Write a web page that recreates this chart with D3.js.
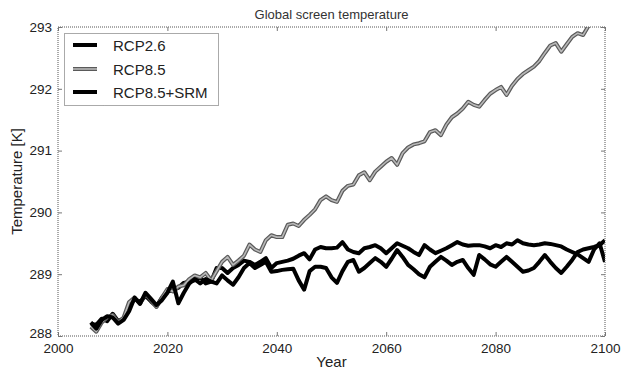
<!DOCTYPE html>
<html>
<head>
<meta charset="utf-8">
<script src="https://cdn.jsdelivr.net/npm/d3@7"></script>
<style>
  html, body { margin: 0; padding: 0; background: #fff; }
  svg { display: block; font-family: "Liberation Sans", Arial, sans-serif; }
</style>
</head>
<body>
<svg id="chart" width="621" height="372"></svg>
<script>
// Annual global-mean screen temperature, 2006–2100
const startYear = 2006;

const rcp26 = [
  288.20, 288.18, 288.28, 288.24, 288.36, 288.24, 288.28, 288.48, 288.60, 288.55,
  288.65, 288.56, 288.48, 288.62, 288.72, 288.74, 288.78, 288.86, 288.88, 288.90,
  288.95, 288.85, 288.88, 289.10, 289.10, 289.02, 289.10, 289.15, 289.22, 289.20,
  289.15, 289.20, 289.26, 289.10, 289.18, 289.20, 289.22, 289.25, 289.30, 289.34,
  289.24, 289.40, 289.44, 289.42, 289.42, 289.43, 289.52, 289.40, 289.36, 289.34,
  289.42, 289.44, 289.47, 289.42, 289.34, 289.42, 289.50, 289.46, 289.42, 289.36,
  289.31, 289.47, 289.40, 289.34, 289.38, 289.42, 289.47, 289.52, 289.48, 289.46,
  289.47, 289.47, 289.45, 289.42, 289.47, 289.44, 289.50, 289.48, 289.55, 289.50,
  289.48, 289.47, 289.48, 289.50, 289.49, 289.47, 289.45, 289.40, 289.36, 289.32,
  289.26, 289.20, 289.40, 289.50, 289.20
];

const rcp85 = [
  288.15, 288.07, 288.22, 288.30, 288.34, 288.22, 288.30, 288.55, 288.62, 288.52,
  288.68, 288.58, 288.47, 288.62, 288.76, 288.72, 288.80, 288.82, 288.92, 288.98,
  288.95, 289.02, 288.90, 289.05, 289.20, 289.28, 289.15, 289.22, 289.30, 289.48,
  289.40, 289.36, 289.55, 289.63, 289.60, 289.60, 289.80, 289.82, 289.78, 289.88,
  289.96, 290.05, 290.20, 290.26, 290.20, 290.17, 290.35, 290.43, 290.45, 290.60,
  290.65, 290.52, 290.66, 290.74, 290.82, 290.88, 290.77, 290.96, 291.05, 291.10,
  291.12, 291.15, 291.30, 291.33, 291.25, 291.42, 291.54, 291.60, 291.68, 291.79,
  291.74, 291.71, 291.82, 291.92, 291.98, 292.03, 291.90, 292.05, 292.16, 292.24,
  292.30, 292.36, 292.45, 292.58, 292.70, 292.74, 292.60, 292.72, 292.84, 292.90,
  292.87, 293.02, 293.15, 293.25, 293.35
];

const rcp85srm = [
  288.22, 288.12, 288.26, 288.32, 288.30, 288.20, 288.26, 288.40, 288.62, 288.52,
  288.70, 288.60, 288.50, 288.58, 288.70, 288.88, 288.53, 288.70, 288.85, 288.92,
  288.85, 288.92, 288.88, 288.85, 288.98, 288.90, 288.83, 288.95, 289.10, 289.18,
  289.10, 289.15, 289.20, 289.04, 289.05, 289.07, 289.08, 289.09, 288.90, 288.75,
  289.05, 289.12, 289.12, 289.10, 288.95, 288.86, 289.05, 289.20, 289.23, 289.04,
  289.10, 289.18, 289.26, 289.20, 289.12, 289.25, 289.39, 289.28, 289.15, 289.08,
  289.00, 288.95, 289.12, 289.20, 289.28, 289.22, 289.15, 289.20, 289.23, 289.10,
  288.99, 289.31, 289.24, 289.16, 289.12, 289.20, 289.28, 289.20, 289.12, 289.04,
  289.06, 289.10, 289.20, 289.31, 289.20, 289.10, 289.02, 289.12, 289.23, 289.36,
  289.40, 289.42, 289.44, 289.47, 289.55
];

const seriesNames = ["RCP2.6", "RCP8.5", "RCP8.5+SRM"];
const xTicks = [2000, 2020, 2040, 2060, 2080, 2100];
const yTicks = [288, 289, 290, 291, 292, 293];

const margin = { left: 58, right: 16, top: 27, bottom: 36 };
const W = 621, H = 372;
const svg = d3.select("#chart");

const x = d3.scaleLinear().domain([2000, 2100]).range([margin.left, W - margin.right]);
const y = d3.scaleLinear().domain([288, 293]).range([H - margin.bottom, margin.top]);

const toPoints = arr => arr.map((v, i) => [startYear + i, v]);
const line = d3.line().x(d => x(d[0])).y(d => y(d[1]));

svg.append("defs").append("clipPath").attr("id", "plotClip")
  .append("rect")
  .attr("x", x(2000)).attr("y", y(293))
  .attr("width", x(2100) - x(2000)).attr("height", y(288) - y(293));

const plot = svg.append("g").attr("clip-path", "url(#plotClip)");

// RCP2.6 (black)
plot.append("path").datum(toPoints(rcp26))
  .attr("d", line).attr("fill", "none")
  .attr("stroke", "#000").attr("stroke-width", 4)
  .attr("stroke-linejoin", "round");

// RCP8.5 (grey, dark-edged)
plot.append("path").datum(toPoints(rcp85))
  .attr("d", line).attr("fill", "none")
  .attr("stroke", "#5a5a5a").attr("stroke-width", 4)
  .attr("stroke-linejoin", "round");
plot.append("path").datum(toPoints(rcp85))
  .attr("d", line).attr("fill", "none")
  .attr("stroke", "#b8b8b8").attr("stroke-width", 1.6)
  .attr("stroke-linejoin", "round");

// RCP8.5+SRM (black)
plot.append("path").datum(toPoints(rcp85srm))
  .attr("d", line).attr("fill", "none")
  .attr("stroke", "#000").attr("stroke-width", 4)
  .attr("stroke-linejoin", "round");

// Frame
const frameColor = "#555";
svg.append("rect")
  .attr("x", x(2000)).attr("y", y(293))
  .attr("width", x(2100) - x(2000)).attr("height", y(288) - y(293))
  .attr("fill", "none").attr("stroke", frameColor).attr("stroke-width", 1)
  .attr("stroke-dasharray", "1,1");

// Axes with inward ticks on all sides
const tickLen = 4;
const fontSize = "13.5px";

const xAxisB = d3.axisBottom(x).tickValues(xTicks).tickFormat(d3.format("d"))
  .tickSizeInner(-tickLen).tickSizeOuter(0).tickPadding(7);
const xAxisT = d3.axisTop(x).tickValues(xTicks).tickFormat("")
  .tickSizeInner(-tickLen).tickSizeOuter(0);
const yAxisL = d3.axisLeft(y).tickValues(yTicks).tickFormat(d3.format("d"))
  .tickSizeInner(-tickLen).tickSizeOuter(0).tickPadding(6);
const yAxisR = d3.axisRight(y).tickValues(yTicks).tickFormat("")
  .tickSizeInner(-tickLen).tickSizeOuter(0);

function styleAxis(g) {
  g.select(".domain").remove();
  g.selectAll(".tick line").attr("stroke", "#777");
  g.selectAll(".tick text").attr("fill", "#222")
    .style("font-size", fontSize)
    .style("font-family", "'Liberation Sans', Arial, sans-serif");
}

svg.append("g").attr("transform", `translate(0,${y(288)})`).call(xAxisB).call(styleAxis);
svg.append("g").attr("transform", `translate(0,${y(293)})`).call(xAxisT).call(styleAxis);
const yAxisG = svg.append("g").attr("transform", `translate(${x(2000)},0)`).call(yAxisL).call(styleAxis);
// lift the lowest y label slightly so it clears the first year label
yAxisG.selectAll(".tick text").filter(d => d === 288).attr("dy", "0.1em");

svg.append("g").attr("transform", `translate(${x(2100)},0)`).call(yAxisR).call(styleAxis);

// Title and axis labels
svg.append("text")
  .attr("x", (x(2000) + x(2100)) / 2).attr("y", 19)
  .attr("text-anchor", "middle").attr("fill", "#333")
  .style("font-size", "13px")
  .text("Global screen temperature");

svg.append("text")
  .attr("x", (x(2000) + x(2100)) / 2).attr("y", 367)
  .attr("text-anchor", "middle").attr("fill", "#222")
  .style("font-size", "15px")
  .text("Year");

svg.append("text")
  .attr("transform", `translate(22,${(y(288) + y(293)) / 2}) rotate(-90)`)
  .attr("text-anchor", "middle").attr("fill", "#222")
  .style("font-size", "15px")
  .text("Temperature [K]");

// Legend
const legend = svg.append("g");
legend.append("rect")
  .attr("x", 64.5).attr("y", 33.5).attr("width", 154).attr("height", 72)
  .attr("fill", "#fff").attr("stroke", frameColor).attr("stroke-width", 1)
  .attr("stroke-dasharray", "1,1");

const legendStyles = [
  [{ c: "#000", w: 4 }],
  [{ c: "#5a5a5a", w: 4 }, { c: "#b8b8b8", w: 1.6 }],
  [{ c: "#000", w: 4 }]
];
const legendRows = [45, 69, 92];
seriesNames.forEach((name, i) => {
  const yy = legendRows[i];
  legendStyles[i].forEach(s => {
    legend.append("line")
      .attr("x1", 73).attr("x2", 97).attr("y1", yy).attr("y2", yy)
      .attr("stroke", s.c).attr("stroke-width", s.w);
  });
  legend.append("text")
    .attr("x", 113).attr("y", yy + 5.5)
    .attr("fill", "#222").style("font-size", "15px")
    .text(name);
});
</script>
</body>
</html>
